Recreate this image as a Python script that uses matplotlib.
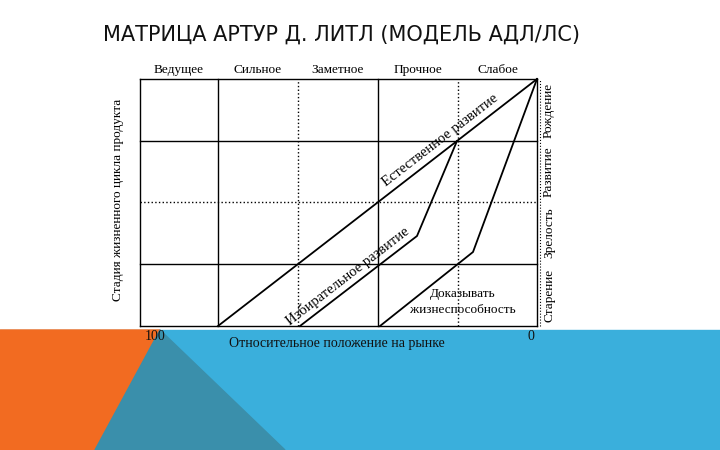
import matplotlib
matplotlib.use("Agg")
import matplotlib.pyplot as plt
from matplotlib.patches import Polygon

columns = ["Ведущее", "Сильное", "Заметное", "Прочное", "Слабое"]
stages = ["Старение", "Зрелость", "Развитие", "Рождение"]
col_edges = [140, 218, 298, 378, 458, 537]
row_edges = [326, 264, 202, 141, 79]
natural_x = [218, 457, 537]; natural_y = [326, 141, 79]
selective_x = [300, 417, 457]; selective_y = [326, 236, 141]
prove_x = [380, 473, 537]; prove_y = [326, 252, 79]

fig = plt.figure(figsize=(7.2, 4.5), dpi=100)
ax = fig.add_axes([0, 0, 1, 1])
ax.set_xlim(0, 720); ax.set_ylim(450, 0); ax.axis("off")

# background shapes
ax.add_patch(Polygon([[0, 330], [720, 330], [720, 450], [0, 450]], color="#3aafdc", zorder=0))
ax.add_patch(Polygon([[0, 330], [160, 330], [95, 450], [0, 450]], color="#f26b21", zorder=1))
ax.add_patch(Polygon([[160, 330], [285, 450], [95, 450]], color="#3a8fab", zorder=1))

ax.text(103, 35, "МАТРИЦА АРТУР Д. ЛИТЛ (МОДЕЛЬ АДЛ/ЛС)", fontsize=15, va="center",
        family="DejaVu Sans", color="#111")

serif = "Liberation Serif"
# grid
for i, x in enumerate(col_edges):
    ax.plot([x, x], [row_edges[0], row_edges[-1]], color="black",
            lw=1.0, ls=":" if i in (2, 4) else "-", zorder=3)
for i, y in enumerate(row_edges):
    ax.plot([col_edges[0], col_edges[-1]], [y, y], color="black",
            lw=1.0, ls=":" if i == 2 else "-", zorder=3)
ax.plot([col_edges[-1] + 3, col_edges[-1] + 3], [row_edges[0], row_edges[-1]], color="black", lw=0.8, ls=":")

for i, c in enumerate(columns):
    ax.text((col_edges[i] + col_edges[i + 1]) / 2, 70, c, ha="center", va="center",
            family=serif, fontsize=9.5)
for i, s in enumerate(stages):
    ax.text(549, (row_edges[i] + row_edges[i + 1]) / 2, s, rotation=90, ha="center",
            va="center", family=serif, fontsize=9.5)
ax.text(118, 200, "Стадия жизненного цикла продукта", rotation=90, ha="center",
        va="center", family=serif, fontsize=9.5)

for xs, ys in [(natural_x, natural_y), (selective_x, selective_y), (prove_x, prove_y)]:
    ax.plot(xs, ys, color="black", lw=1.3, zorder=4)

ax.text(440, 140, "Естественное развитие", rotation=37.7, ha="center", va="center",
        family=serif, fontsize=10.5)
ax.text(348, 276, "Избирательное развитие", rotation=37.7, ha="center", va="center",
        family=serif, fontsize=10.5)
ax.text(463, 302, "Доказывать\nжизнеспособность", ha="center", va="center",
        family=serif, fontsize=9.5, linespacing=1.4)

ax.text(155, 336, "100", ha="center", va="center", family=serif, fontsize=10, color="#111")
ax.text(337, 343, "Относительное положение на рынке", ha="center", va="center",
        family=serif, fontsize=10, color="#111")
ax.text(531, 337, "0", ha="center", va="center", family=serif, fontsize=10, color="#111")

fig.savefig("out.png", dpi=100)
